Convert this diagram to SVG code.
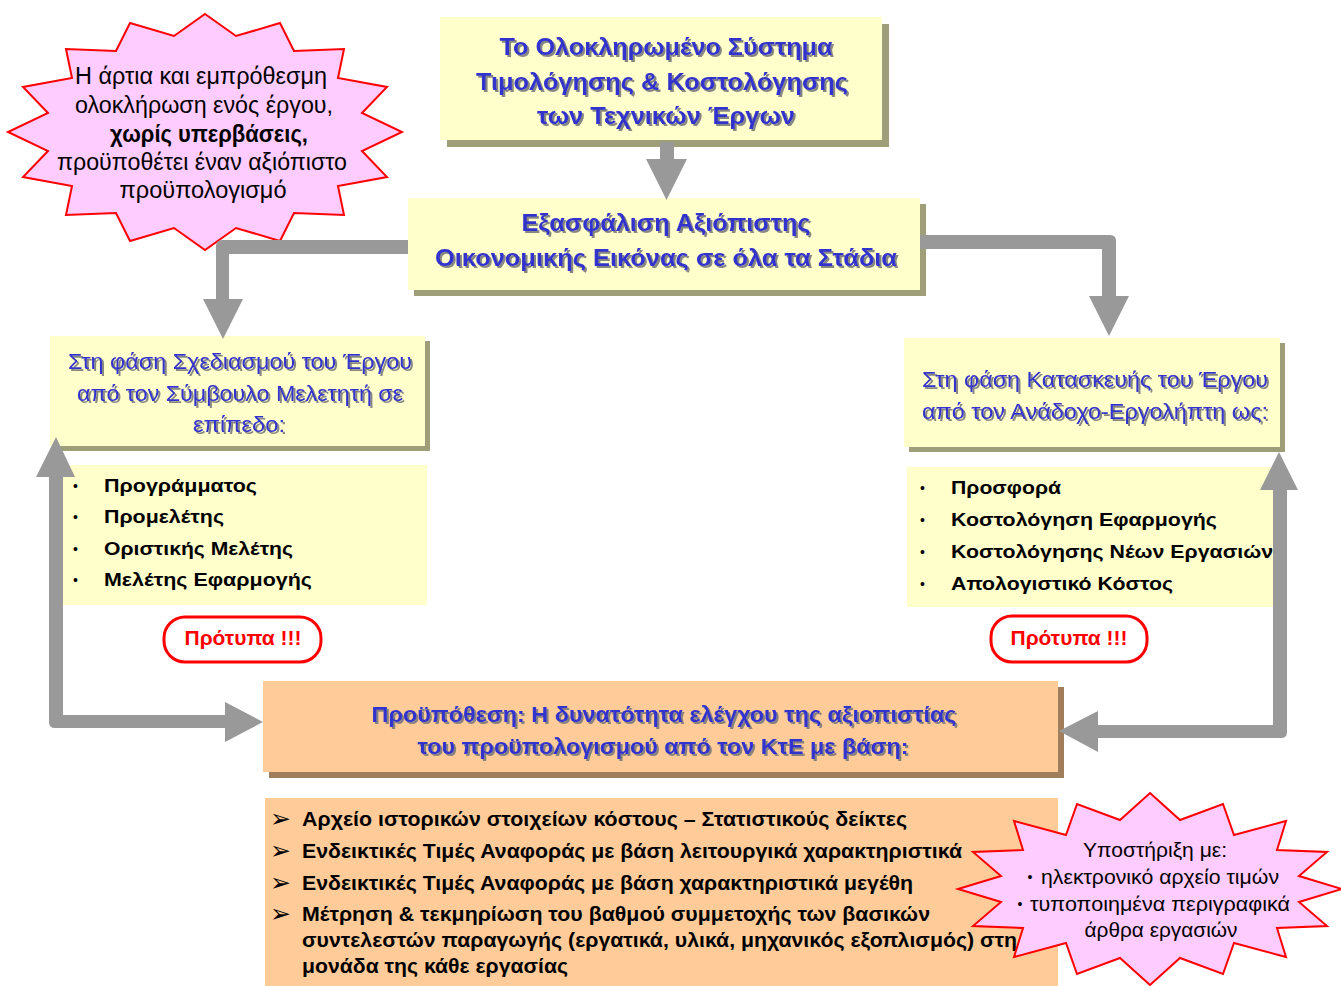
<svg xmlns="http://www.w3.org/2000/svg" width="1341" height="986" viewBox="0 0 1341 986">
<defs>
<filter id="ts" x="-5%" y="-20%" width="110%" height="150%"><feDropShadow dx="2" dy="2" stdDeviation="0.6" flood-color="#7a7a7a" flood-opacity="0.9"/></filter>
<style>
.box{fill:#FFFFCC;}
.shy{fill:#9E9E78;}
.sho{fill:#A07E5C;}
.title{font-family:"Liberation Sans",Arial,sans-serif;fill:#3333CC;text-anchor:middle;filter:url(#ts);}
.b{font-weight:bold;}
.li{font-family:"Liberation Sans",Arial,sans-serif;font-weight:bold;font-size:19px;fill:#000;}
.bul{font-family:"Liberation Sans",Arial,sans-serif;font-size:14px;fill:#000;}
.star{fill:#FFCCFF;stroke:#FF0000;stroke-width:2;stroke-linejoin:miter;}
.st{font-family:"Liberation Sans",Arial,sans-serif;fill:#000;text-anchor:middle;}
.btn{fill:#fff;stroke:#FF0000;stroke-width:3;}
.btt{font-family:"Liberation Sans",Arial,sans-serif;font-weight:bold;font-size:20px;fill:#FF0000;text-anchor:middle;}
.conn{fill:#999999;}
.bl{font-family:"Liberation Sans",Arial,sans-serif;font-weight:bold;font-size:20px;fill:#000;}
.arr{font-family:"DejaVu Sans",sans-serif;font-size:25px;fill:#000;}
</style>
</defs>
<rect width="1341" height="986" fill="#fff"/>

<g id="star-top">
<polygon class="star" points="205,14 236,36 280,23 294,51 344,49 338,78 387,87 362,113 402,132 362,151 387,177 338,186 344,215 294,213 280,241 236,228 205,250 174,228 130,241 116,213 66,215 72,186 23,177 48,151 8,132 48,113 23,87 72,78 66,49 116,51 130,23 174,36"/>
<text class="st" font-size="23" x="201" y="84" textLength="252" lengthAdjust="spacingAndGlyphs">Η άρτια και εμπρόθεσμη</text>
<text class="st" font-size="23" x="204" y="113" textLength="258" lengthAdjust="spacingAndGlyphs">ολοκλήρωση ενός έργου,</text>
<text class="st b" font-size="23" x="209" y="142" textLength="198" lengthAdjust="spacingAndGlyphs">χωρίς υπερβάσεις,</text>
<text class="st" font-size="23" x="202" y="170" textLength="290" lengthAdjust="spacingAndGlyphs">προϋποθέτει έναν αξιόπιστο</text>
<text class="st" font-size="23" x="203" y="198" textLength="167" lengthAdjust="spacingAndGlyphs">προϋπολογισμό</text>
</g>

<g id="node-system">
<rect class="shy" x="447" y="24" width="442" height="123"/>
<rect class="box" x="440" y="17" width="442" height="123"/>
<text class="title b" font-size="24" x="666" y="55" textLength="333" lengthAdjust="spacingAndGlyphs">Το Ολοκληρωμένο Σύστημα</text>
<text class="title b" font-size="24" x="662" y="90" textLength="372" lengthAdjust="spacingAndGlyphs">Τιμολόγησης &amp; Κοστολόγησης</text>
<text class="title b" font-size="24" x="666" y="124" textLength="258" lengthAdjust="spacingAndGlyphs">των Τεχνικών Έργων</text>
</g>

<g id="node-assurance">
<rect class="shy" x="414" y="204" width="512" height="92"/>
<rect class="box" x="408" y="198" width="512" height="92"/>
<text class="title b" font-size="24" x="666" y="231" textLength="289" lengthAdjust="spacingAndGlyphs">Εξασφάλιση Αξιόπιστης</text>
<text class="title b" font-size="24" x="666" y="266" textLength="462" lengthAdjust="spacingAndGlyphs">Οικονομικής Εικόνας σε όλα τα Στάδια</text>
</g>

<g id="node-design">
<rect class="shy" x="55" y="341" width="375" height="110"/>
<rect class="box" x="50" y="336" width="375" height="110"/>
<text class="title" font-size="22" x="240" y="369" textLength="344" lengthAdjust="spacingAndGlyphs">Στη φάση Σχεδιασμού του Έργου</text>
<text class="title" font-size="22" x="240" y="401" textLength="326" lengthAdjust="spacingAndGlyphs">από τον Σύμβουλο Μελετητή σε</text>
<text class="title" font-size="22" x="239" y="432" textLength="92" lengthAdjust="spacingAndGlyphs">επίπεδο:</text>
</g>

<g id="list-design">
<rect class="box" x="62" y="465" width="365" height="140"/>
<text class="bul" x="73" y="491">•</text>
<text class="bul" x="73" y="522">•</text>
<text class="bul" x="73" y="554">•</text>
<text class="bul" x="73" y="585">•</text>
<text class="li" x="104" y="492" textLength="153" lengthAdjust="spacingAndGlyphs">Προγράμματος</text>
<text class="li" x="104" y="523" textLength="120" lengthAdjust="spacingAndGlyphs">Προμελέτης</text>
<text class="li" x="104" y="555" textLength="189" lengthAdjust="spacingAndGlyphs">Οριστικής Μελέτης</text>
<text class="li" x="104" y="586" textLength="208" lengthAdjust="spacingAndGlyphs">Μελέτης Εφαρμογής</text>
</g>

<g id="btn-design">
<rect class="btn" x="164" y="617" width="157" height="45" rx="21"/>
<text class="btt" x="243" y="645" textLength="117" lengthAdjust="spacingAndGlyphs">Πρότυπα !!!</text>
</g>

<g id="node-construction">
<rect class="shy" x="909" y="343" width="376" height="109"/>
<rect class="box" x="904" y="338" width="376" height="109"/>
<text class="title" font-size="22" x="1095" y="387" textLength="346" lengthAdjust="spacingAndGlyphs">Στη φάση Κατασκευής του Έργου</text>
<text class="title" font-size="22" x="1095" y="419" textLength="346" lengthAdjust="spacingAndGlyphs">από τον Ανάδοχο-Εργολήπτη ως:</text>
</g>

<g id="list-construction">
<rect class="box" x="907" y="467" width="366" height="140"/>
<text class="bul" x="920" y="493">•</text>
<text class="bul" x="920" y="525">•</text>
<text class="bul" x="920" y="557">•</text>
<text class="bul" x="920" y="589">•</text>
<text class="li" x="951" y="494" textLength="110" lengthAdjust="spacingAndGlyphs">Προσφορά</text>
<text class="li" x="951" y="526" textLength="266" lengthAdjust="spacingAndGlyphs">Κοστολόγηση Εφαρμογής</text>
<text class="li" x="951" y="558" textLength="322" lengthAdjust="spacingAndGlyphs">Κοστολόγησης Νέων Εργασιών</text>
<text class="li" x="951" y="590" textLength="222" lengthAdjust="spacingAndGlyphs">Απολογιστικό Κόστος</text>
</g>

<g id="btn-construction">
<rect class="btn" x="991" y="616" width="156" height="46" rx="21"/>
<text class="btt" x="1069" y="645" textLength="117" lengthAdjust="spacingAndGlyphs">Πρότυπα !!!</text>
</g>

<g id="node-prerequisite">
<rect class="sho" x="269" y="687" width="795" height="91"/>
<rect x="263" y="681" width="795" height="91" fill="#FFCC99"/>
<text class="title b" font-size="22" x="664" y="722" textLength="585" lengthAdjust="spacingAndGlyphs">Προϋπόθεση: Η δυνατότητα ελέγχου της αξιοπιστίας</text>
<text class="title b" font-size="22" x="663" y="754" textLength="491" lengthAdjust="spacingAndGlyphs">του προϋπολογισμού από τον ΚτΕ με βάση:</text>
</g>

<g id="list-basis">
<rect x="265" y="798" width="793" height="188" fill="#FFCC99"/>
<text class="arr" x="270" y="827">➢</text>
<text class="arr" x="270" y="859">➢</text>
<text class="arr" x="270" y="891">➢</text>
<text class="arr" x="270" y="922">➢</text>
<text class="bl" x="302" y="826" textLength="605" lengthAdjust="spacingAndGlyphs">Αρχείο ιστορικών στοιχείων κόστους – Στατιστικούς δείκτες</text>
<text class="bl" x="302" y="858" textLength="660" lengthAdjust="spacingAndGlyphs">Ενδεικτικές Τιμές Αναφοράς με βάση λειτουργικά χαρακτηριστικά</text>
<text class="bl" x="302" y="890" textLength="611" lengthAdjust="spacingAndGlyphs">Ενδεικτικές Τιμές Αναφοράς με βάση χαρακτηριστικά μεγέθη</text>
<text class="bl" x="302" y="921" textLength="628" lengthAdjust="spacingAndGlyphs">Μέτρηση &amp; τεκμηρίωση του βαθμού συμμετοχής των βασικών</text>
<text class="bl" x="302" y="947" textLength="715" lengthAdjust="spacingAndGlyphs">συντελεστών παραγωγής (εργατικά, υλικά, μηχανικός εξοπλισμός) στη</text>
<text class="bl" x="302" y="973" textLength="266" lengthAdjust="spacingAndGlyphs">μονάδα της κάθε εργασίας</text>
</g>

<g id="star-support">
<polygon class="star" points="1150,793 1180,820 1223,804 1234,835 1286,821 1277,850 1327,852 1299,876 1342,889 1299,902 1327,926 1277,928 1286,957 1234,943 1223,974 1180,958 1150,985 1120,958 1077,974 1066,943 1014,957 1023,928 973,926 1001,902 958,889 1001,876 973,852 1023,850 1014,821 1066,835 1077,804 1120,820"/>
<text class="st" font-size="21" x="1155" y="857" textLength="144" lengthAdjust="spacingAndGlyphs">Υποστήριξη με:</text>
<text class="st" font-size="21" x="1160" y="884" textLength="238" lengthAdjust="spacingAndGlyphs">ηλεκτρονικό αρχείο τιμών</text>
<text class="st" font-size="14" x="1030" y="882">•</text>
<text class="st" font-size="21" x="1160" y="911" textLength="260" lengthAdjust="spacingAndGlyphs">τυποποιημένα περιγραφικά</text>
<text class="st" font-size="14" x="1020" y="909">•</text>
<text class="st" font-size="21" x="1161" y="937" textLength="153" lengthAdjust="spacingAndGlyphs">άρθρα εργασιών</text>
</g>

<g id="connectors">
<polygon class="conn" points="660,142 674,142 674,159 687,159 666.5,200 646,159 660,159"/>
<path class="conn" d="M408,240 L222,240 Q216,240 216,246 L216,299 L203,299 L223,339 L243,299 L229,299 L229,254 L408,254 Z"/>
<path class="conn" d="M920,235 L1110,235 Q1116,235 1116,241 L1116,296 L1129,296 L1109,336 L1089,296 L1102,296 L1102,249 L920,249 Z"/>
<path class="conn" d="M49,477 L36,477 L56,437 L75,477 L63,477 L63,715 L225,715 L225,702 L263,722 L225,742 L225,728 L55,728 Q49,728 49,722 Z"/>
<path class="conn" d="M1273,490 L1260,490 L1279,452 L1298,490 L1287,490 L1287,732 Q1287,738 1281,738 L1098,738 L1098,752 L1059,731 L1098,711 L1098,725 L1273,725 Z"/>
</g>
</svg>
